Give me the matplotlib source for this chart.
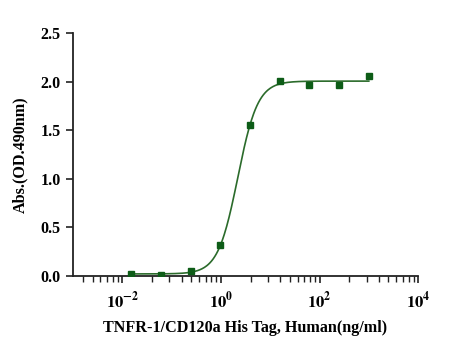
import matplotlib
matplotlib.use("Agg")
import matplotlib.pyplot as plt
import numpy as np

# 4-fold dilution series (ng/ml) and measured absorbance
conc = [0.0153, 0.061, 0.244, 0.977, 3.906, 15.625, 62.5, 250.0, 1000.0]
od = [0.02, 0.01, 0.05, 0.32, 1.55, 2.01, 1.965, 1.96, 2.06]

x_major = [1e-2, 1e0, 1e2, 1e4]
x_major_labels = [r"$\mathbf{10^{-2}}$", r"$\mathbf{10^{0}}$", r"$\mathbf{10^{2}}$", r"$\mathbf{10^{4}}$"]
y_ticks = [0.0, 0.5, 1.0, 1.5, 2.0, 2.5]


def four_pl(x, bottom, top, ec50, hill):
    return bottom + (top - bottom) / (1 + (ec50 / x) ** hill)


# crude 4PL fit by grid search
xs = np.array(conc)
ys = np.array(od)
best = None
for ec50 in np.linspace(1.0, 5.0, 81):
    for hill in np.linspace(1.0, 4.0, 61):
        # bottom/top solved linearly for given ec50, hill
        f = 1 / (1 + (ec50 / xs) ** hill)
        A = np.vstack([1 - f, f]).T
        (b, t), *_ = np.linalg.lstsq(A, ys, rcond=None)
        err = np.sum((A @ np.array([b, t]) - ys) ** 2)
        if best is None or err < best[0]:
            best = (err, b, t, ec50, hill)
_, bottom, top, ec50, hill = best

xfit = np.logspace(np.log10(conc[0]), np.log10(conc[-1]), 300)
yfit = four_pl(xfit, bottom, top, ec50, hill)

plt.rcParams["font.family"] = "Liberation Serif"
plt.rcParams["font.weight"] = "bold"
plt.rcParams["mathtext.fontset"] = "stix"

fig = plt.figure(figsize=(4.67, 3.51), dpi=100)
ax = fig.add_axes([0.1563, 0.2137, 0.739, 0.6923])

ax.plot(xfit, yfit, color="#2b6b2b", lw=1.2)
ax.plot(conc, od, "s", color="#0d5c17", markersize=4.2, zorder=3)

ax.set_xscale("log")
ax.set_xlim(1e-3, 1e4)
ax.set_ylim(0, 2.5)

ax.set_xticks(x_major)
ax.set_xticklabels(x_major_labels, fontsize=12)
minor = [m * k * k for m in [1e-4, 1e-2, 1e0, 1e2] for k in range(2, 10)]
minor = [v for v in minor if 1e-3 < v < 1e4]
ax.set_xticks(minor, minor=True)
ax.set_xticklabels([], minor=True)

ax.set_yticks(y_ticks)
ax.set_yticklabels(["%.1f" % v for v in y_ticks], fontsize=11.5, fontweight="bold")

for s in ["top", "right"]:
    ax.spines[s].set_visible(False)
for s in ["left", "bottom"]:
    ax.spines[s].set_linewidth(1.3)
    ax.spines[s].set_color("#222222")

ax.tick_params(axis="both", which="major", length=5, width=1.2, color="#222222", pad=4)
ax.tick_params(axis="x", which="minor", length=4, width=1.0, color="#222222")
ax.tick_params(axis="x", which="major", pad=6)

ax.set_xlabel("TNFR-1/CD120a His Tag, Human(ng/ml)", fontsize=11.6, fontweight="bold", labelpad=6)
ax.set_ylabel("Abs.(OD.490nm)", fontsize=11.6, fontweight="bold", labelpad=9)

fig.savefig("out.png", dpi=100)
